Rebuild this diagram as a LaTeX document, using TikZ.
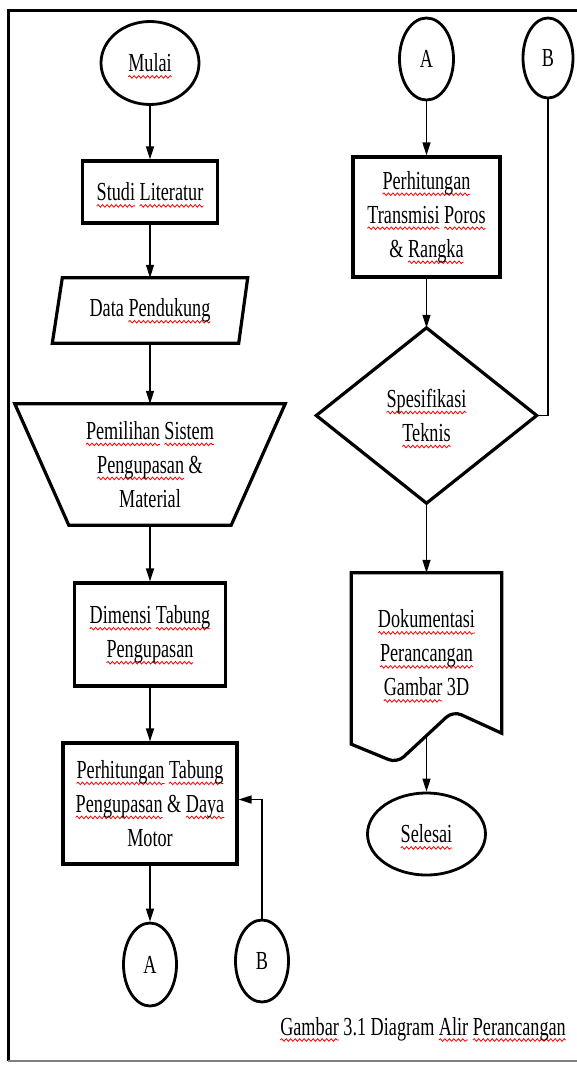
\documentclass[tikz,border=0pt]{standalone}
\usepackage{fontspec}
\setmainfont[FakeStretch=0.7]{Liberation Serif}
\usetikzlibrary{shapes.geometric,arrows.meta,calc,decorations.pathmorphing}
\newlength\wvlen
\newcommand\wv[1]{\setbox0=\hbox{#1}\setlength\wvlen{\wd0}\leavevmode\rlap{\tikz[overlay, x=1pt, y=1pt]{\draw[red, line width=0.8pt, solid, decorate, decoration={snake, amplitude=1.3pt, segment length=4.5pt}] (0pt,-5pt) -- (\the\wvlen,-5pt);}}\box0\relax}
\tikzset{
  txt/.style={font=\fontsize{26}{34}\selectfont, align=center, inner sep=0pt},
  procbox/.style={txt, draw, line width=3.2pt, rectangle},
  ghost/.style={txt, rectangle},
  term/.style={txt, draw, line width=2.8pt, ellipse},
  outline/.style={draw, line width=3.2pt, line join=miter},
  flow/.style={line width=1.3pt, -{Triangle[length=13pt,width=8pt]}},
  plainflow/.style={line width=1.3pt},
}
\begin{document}
\begin{tikzpicture}[x=1pt,y=-1pt]
\useasboundingbox (0,0) rectangle (576,1065);
% frame
\draw[line width=3pt] (577,11) -- (8,11) -- (8,1061);
\draw[gray, line width=1.5pt] (8,1061) -- (577,1061);

% left column
\node[term, minimum width=98pt, minimum height=83pt] (mulai) at (150,63) {\wv{Mulai}};
\node[procbox, minimum width=135pt, minimum height=62pt] (studi) at (150,192) {\wv{Studi} \wv{Literatur}};
\node[ghost, minimum width=195pt, minimum height=65pt] (data) at (150,310.5) {Data \wv{Pendukung}};
\draw[outline] ($(data.north west)+(10,0)$) -- (data.north east) -- ($(data.south east)+(-9,0)$) -- (data.south west) -- cycle;
\node[ghost, minimum width=270pt, minimum height=121pt] (pem) at (150,464.5) {\wv{Pemilihan} \wv{Sistem}\\ \wv{Pengupasan} \&\\ Material};
\draw[outline] (pem.north west) -- (pem.north east) -- ($(pem.south east)+(-54,0)$) -- ($(pem.south west)+(54,0)$) -- cycle;
\node[procbox, minimum width=151pt, minimum height=103pt] (dim) at (150,634.5) {\wv{Dimensi} \wv{Tabung}\\ \wv{Pengupasan}};
\node[procbox, minimum width=174pt, minimum height=121pt] (pt1) at (150,803.5) {\wv{Perhitungan} \wv{Tabung}\\ \wv{Pengupasan} \& \wv{Daya}\\ Motor};
\node[term, minimum width=53pt, minimum height=83pt] (A1) at (150,964.5) {A};
\node[term, minimum width=53pt, minimum height=82pt] (B1) at (262,961) {B};

% right column
\node[term, minimum width=54pt, minimum height=82pt] (A2) at (426.5,59) {A};
\node[term, minimum width=50pt, minimum height=80pt] (B2) at (548,58) {B};
\node[procbox, minimum width=147pt, minimum height=120pt] (pt2) at (426.5,217) {\wv{Perhitungan}\\ \wv{Transmisi} \wv{Poros}\\ \& \wv{Rangka}};
\node[ghost, minimum width=220pt, minimum height=175pt] (spec) at (426.5,415.5) {\wv{Spesifikasi}\\ \wv{Teknis}};
\draw[outline] (spec.north) -- (spec.east) -- (spec.south) -- (spec.west) -- cycle;
\node[ghost, minimum width=150pt, minimum height=160pt] (doc) at (426.5,653) {\wv{Dokumentasi}\\ \wv{Perancangan}\\ \wv{Gambar} 3D};
\draw[outline] (doc.south east) -- (doc.north east) -- (doc.north west) -- ($(doc.south west)+(0,11)$)
  [rounded corners=9pt] -- (397,763) -- (453,711) [rounded corners=0pt] -- (doc.south east) -- cycle;
\node[term, minimum width=118pt, minimum height=82pt] (sel) at (426.5,834) {\wv{Selesai}};

% caption
\node[txt, anchor=base east] (cap) at (566,1035) {\wv{Gambar} 3.1 Diagram \wv{Alir} \wv{Perancangan}};

% connectors
\draw[flow] (mulai) -- (studi);
\draw[flow] (studi) -- (data);
\draw[flow] (data) -- (pem.north);
\draw[flow] (pem.south) -- (dim);
\draw[flow] (dim) -- (pt1);
\draw[flow] (pt1) -- (A1);
\draw[flow] (B1.north) |- ($(pt1.east)+(0,-4)$);
\draw[flow] (A2) -- (pt2);
\draw[flow] (pt2) -- (spec.north);
\draw[flow] (spec.south) -- (doc.north);
\draw[flow] ($(doc.south)+(0,3)$) -- (sel);
\draw[plainflow] (B2.south) |- (spec.east);
\end{tikzpicture}
\end{document}
